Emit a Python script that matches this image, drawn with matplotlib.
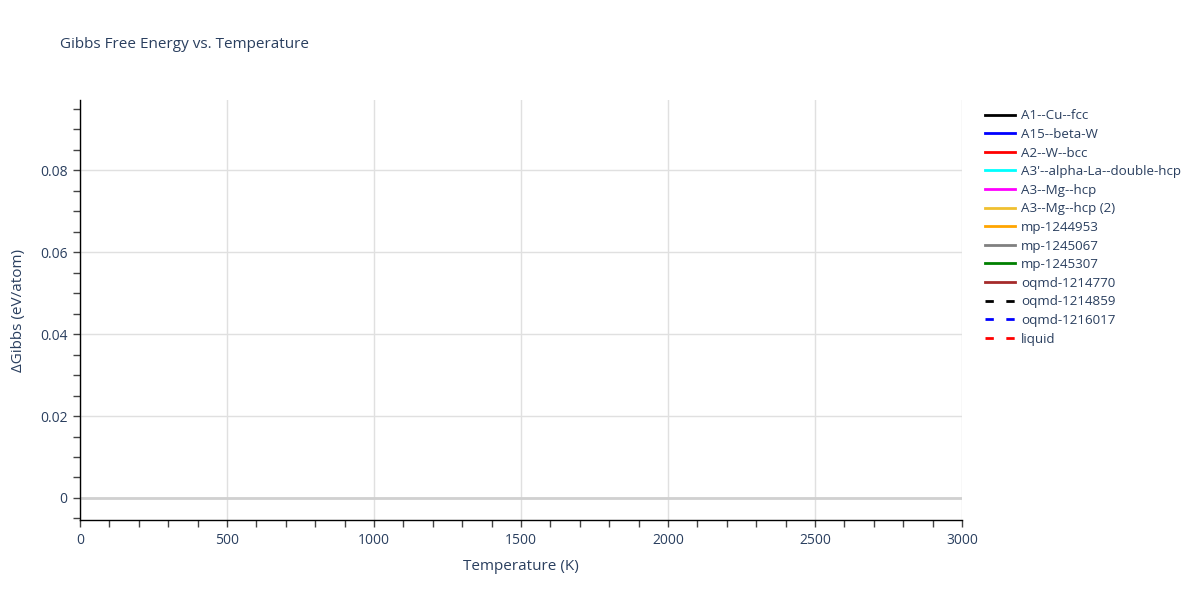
import matplotlib
matplotlib.use("Agg")
import matplotlib.pyplot as plt
from matplotlib.ticker import MultipleLocator

# Phases listed in the legend; the reference shows no visible curves,
# so each series carries no points.
phases = [
    "A1--Cu--fcc", "A15--beta-W", "A2--W--bcc", "A3'--alpha-La--double-hcp",
    "A3--Mg--hcp", "A3--Mg--hcp (2)", "mp-1244953", "mp-1245067",
    "mp-1245307", "oqmd-1214770", "oqmd-1214859", "oqmd-1216017", "liquid",
]
colors = ["black", "blue", "red", "cyan", "magenta", "#f0c030", "orange",
          "grey", "green", "brown", "black", "blue", "red"]
styles = ["-"] * 10 + ["--"] * 3
temperatures = [[] for _ in phases]
dgibbs = [[] for _ in phases]

TXT = "#2a3f5f"
plt.rcParams["font.family"] = ["Open Sans", "DejaVu Sans"]

fig = plt.figure(figsize=(12, 6), dpi=100)
ax = fig.add_axes([80 / 1200, 1 - 520 / 600, 882 / 1200, 420 / 600])

for name, c, ls, t, g in zip(phases, colors, styles, temperatures, dgibbs):
    line, = ax.plot(t, g, color=c, lw=2, label=name)
    if ls == "--":
        line.set_dashes((3, 4.5))

ax.set_xlim(0, 3000)
ax.set_ylim(-0.00537, 0.0971)
ax.xaxis.set_major_locator(MultipleLocator(500))
ax.xaxis.set_minor_locator(MultipleLocator(100))
ax.yaxis.set_minor_locator(MultipleLocator(0.005))
ax.set_yticks([0, 0.02, 0.04, 0.06, 0.08])
ax.set_yticklabels(["0", "0.02", "0.04", "0.06", "0.08"])

ax.grid(True, which="major", color="#e0e0e0", lw=1)
ax.axhline(0, color="#d0d0d0", lw=2, zorder=1)
ax.set_axisbelow(True)
for s in ("top", "right"):
    ax.spines[s].set_visible(False)
for s in ("left", "bottom"):
    ax.spines[s].set_color("black")
    ax.spines[s].set_linewidth(1)

ax.tick_params(which="both", direction="out", length=5, width=1, color="#444444",
               labelcolor=TXT, labelsize=10, pad=4)

ax.set_xlabel("Temperature (K)", color=TXT, fontsize=11, labelpad=8)
ax.set_ylabel("ΔGibbs (eV/atom)", color=TXT, fontsize=11, labelpad=10)
fig.text(60 / 1200, 1 - 45 / 600, "Gibbs Free Energy vs. Temperature",
         color=TXT, fontsize=11, va="center", ha="left")

leg = fig.legend(loc="upper left", bbox_to_anchor=(980 / 1200, 1 - 104 / 600),
                 frameon=False, fontsize=9.6, handlelength=2.2, handletextpad=0.5,
                 labelspacing=0.42, borderaxespad=0)
for t in leg.get_texts():
    t.set_color(TXT)

fig.savefig("out.png", dpi=100)
